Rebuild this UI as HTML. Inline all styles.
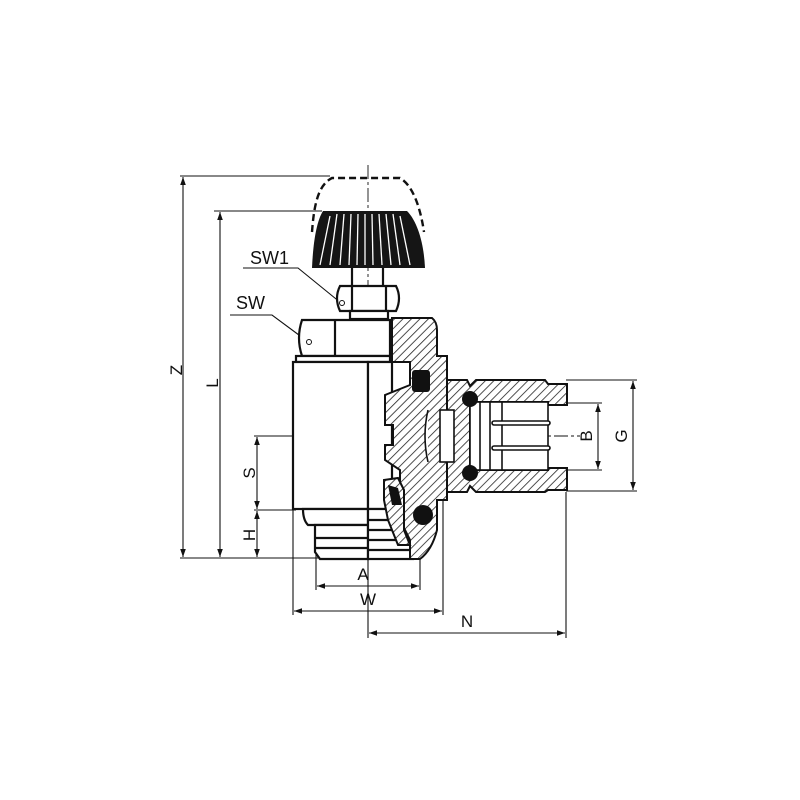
<!DOCTYPE html>
<html><head><meta charset="utf-8"><style>
html,body{margin:0;padding:0;background:#fff;width:800px;height:800px;overflow:hidden}
svg{display:block}
text{font-family:"Liberation Sans",sans-serif;fill:#111}
</style></head><body>
<svg width="800" height="800" viewBox="0 0 800 800" xmlns="http://www.w3.org/2000/svg">
<defs>
<pattern id="h" width="6" height="6" patternUnits="userSpaceOnUse" patternTransform="rotate(45)">
<rect width="6" height="6" fill="#fff"/><line x1="0" y1="0" x2="0" y2="6" stroke="#222" stroke-width="1.6"/>
</pattern>
<marker id="a" viewBox="0 0 10 10" refX="10" refY="5" markerWidth="10" markerHeight="8" orient="auto-start-reverse" markerUnits="userSpaceOnUse">
<path d="M0,1.5 L10,5 L0,8.5 z" fill="#111"/></marker>
</defs>
<g stroke="#111" fill="none" stroke-width="1.1">
<line x1="180" y1="176" x2="330" y2="176"/>
<line x1="214" y1="211" x2="322" y2="211"/>
<line x1="180" y1="558" x2="320" y2="558"/>
<line x1="254" y1="436" x2="370" y2="436"/>
<line x1="254" y1="510" x2="296" y2="510"/>
<line x1="316" y1="540" x2="316" y2="590"/>
<line x1="420" y1="540" x2="420" y2="590"/>
<line x1="293" y1="510" x2="293" y2="615"/>
<line x1="443" y1="500" x2="443" y2="615"/>
<line x1="368" y1="560" x2="368" y2="638"/>
<line x1="566" y1="492" x2="566" y2="638"/>
<line x1="545" y1="403" x2="602" y2="403"/>
<line x1="545" y1="470" x2="602" y2="470"/>
<line x1="566" y1="380" x2="637" y2="380"/>
<line x1="566" y1="491" x2="637" y2="491"/>
<line x1="183" y1="177" x2="183" y2="557" marker-start="url(#a)" marker-end="url(#a)"/>
<line x1="220" y1="212" x2="220" y2="557" marker-start="url(#a)" marker-end="url(#a)"/>
<line x1="257" y1="437" x2="257" y2="509" marker-start="url(#a)" marker-end="url(#a)"/>
<line x1="257" y1="511" x2="257" y2="557" marker-start="url(#a)" marker-end="url(#a)"/>
<line x1="317" y1="586" x2="419" y2="586" marker-start="url(#a)" marker-end="url(#a)"/>
<line x1="294" y1="611" x2="442" y2="611" marker-start="url(#a)" marker-end="url(#a)"/>
<line x1="369" y1="633" x2="565" y2="633" marker-start="url(#a)" marker-end="url(#a)"/>
<line x1="598" y1="404" x2="598" y2="469" marker-start="url(#a)" marker-end="url(#a)"/>
<line x1="633" y1="381" x2="633" y2="490" marker-start="url(#a)" marker-end="url(#a)"/>
<polyline points="243,268 298,268 341,303"/>
<polyline points="230,315 272,315 307,341"/>
<line x1="368" y1="165" x2="368" y2="560" stroke-dasharray="14,3,3,3" stroke-width="0.9"/>
<line x1="370" y1="436" x2="580" y2="436" stroke-dasharray="14,3,3,3" stroke-width="0.9"/>
</g>
<path d="M312,232 C314,205 318,185 332,178 L400,178 C412,185 420,205 424,232" fill="none" stroke="#111" stroke-width="2.4" stroke-dasharray="7,4"/>
<path d="M323,211 L407,211 C418,222 424,245 425,268 L312,268 C313,245 316,222 323,211 z" fill="#151515"/>
<g stroke="#fff" stroke-width="1.3">
<line x1="330" y1="216" x2="320" y2="265"/><line x1="337" y1="214" x2="330" y2="265"/><line x1="344" y1="214" x2="340" y2="265"/><line x1="351" y1="214" x2="349" y2="265"/><line x1="358" y1="214" x2="357" y2="265"/><line x1="365" y1="214" x2="365" y2="265"/><line x1="372" y1="214" x2="373" y2="265"/><line x1="379" y1="214" x2="382" y2="265"/><line x1="386" y1="214" x2="391" y2="265"/><line x1="393" y1="214" x2="400" y2="265"/><line x1="400" y1="216" x2="410" y2="265"/>
</g>
<g stroke="#111" stroke-width="2.2" fill="#fff">
<line x1="352" y1="268" x2="352" y2="286"/><line x1="383" y1="268" x2="383" y2="286"/>
<path d="M340,286 L396,286 Q402,298 396,311 L340,311 Q334,298 340,286 z"/>
<line x1="352" y1="286" x2="352" y2="311"/><line x1="386" y1="286" x2="386" y2="311"/>
<rect x="350" y="311" width="38" height="8"/>
<path d="M302,320 L390,320 L390,356 L302,356 Q296,338 302,320 z"/>
<line x1="335" y1="320" x2="335" y2="356"/>
<rect x="296" y="356" width="94" height="6"/>
<rect x="293" y="362" width="75" height="147"/>
<path d="M303,509 L368,509 L368,525 L308,525 Q303,520 303,509 z"/>
<path d="M315,525 L368,525 L368,559 L320,559 L315,552 z"/>
<line x1="316" y1="538" x2="368" y2="538"/><line x1="316" y1="548" x2="368" y2="548"/>
<rect x="368" y="362" width="24" height="147" fill="#fff"/>
<rect x="368" y="509" width="45" height="50"/>
<line x1="368" y1="520" x2="413" y2="520"/><line x1="368" y1="530" x2="413" y2="530"/><line x1="368" y1="540" x2="410" y2="540"/><line x1="368" y1="550" x2="410" y2="550"/>
</g>
<g stroke="#111" stroke-width="2" fill="url(#h)">
<path d="M392,318 L432,318 Q437,322 437,330 L437,356 L447,356 L447,500 L437,500 L437,530 Q432,550 420,559 L410,559 L410,540 L400,520 L400,470 L385,460 L385,445 L393,445 L393,425 L385,425 L385,395 L410,385 L410,362 L392,362 z"/>
<path d="M384,480 L398,478 L404,490 L404,530 L410,545 L398,545 L388,520 L384,500 z"/>
<path d="M447,380 L467,380 L470,386 L476,380 L545,380 L548,384 L567,384 L567,405 L548,405 L548,402 L470,402 L470,470 L548,470 L548,468 L567,468 L567,490 L548,490 L545,492 L476,492 L470,486 L467,492 L447,492 z"/>
</g>
<g stroke="#111" stroke-width="1.6" fill="#fff">
<rect x="470" y="402" width="78" height="68"/>
<line x1="480" y1="402" x2="480" y2="470"/><line x1="490" y1="402" x2="490" y2="470"/>
<line x1="502" y1="402" x2="502" y2="470"/>
<rect x="440" y="410" width="14" height="52"/>
<path d="M428,410 Q422,436 428,462"/>
<rect x="492" y="421" width="58" height="4" rx="2"/><rect x="492" y="446" width="58" height="4" rx="2"/>
</g>
<g fill="#111">
<rect x="412" y="370" width="18" height="22" rx="3"/>
<circle cx="423" cy="515" r="10"/>
<circle cx="470" cy="399" r="8"/><circle cx="470" cy="473" r="8"/>
<path d="M388,485 L398,488 L402,505 L392,505 z"/>
</g>
<circle cx="342" cy="303" r="2.5" fill="#fff" stroke="#111"/>
<circle cx="309" cy="342" r="2.5" fill="#fff" stroke="#111"/>
<text x="250" y="264" font-size="18">SW1</text>
<text x="236" y="309" font-size="18">SW</text>
<text x="363" y="580" font-size="17" text-anchor="middle">A</text>
<text x="368" y="605" font-size="17" text-anchor="middle">W</text>
<text x="467" y="627" font-size="17" text-anchor="middle">N</text>
<text font-size="17" text-anchor="middle" transform="translate(182,370) rotate(-90)">Z</text>
<text font-size="17" text-anchor="middle" transform="translate(218,383) rotate(-90)">L</text>
<text font-size="17" text-anchor="middle" transform="translate(255,473) rotate(-90)">S</text>
<text font-size="17" text-anchor="middle" transform="translate(255,535) rotate(-90)">H</text>
<text font-size="17" text-anchor="middle" transform="translate(592,436) rotate(-90)">B</text>
<text font-size="17" text-anchor="middle" transform="translate(627,436) rotate(-90)">G</text>
</svg>
</body></html>
